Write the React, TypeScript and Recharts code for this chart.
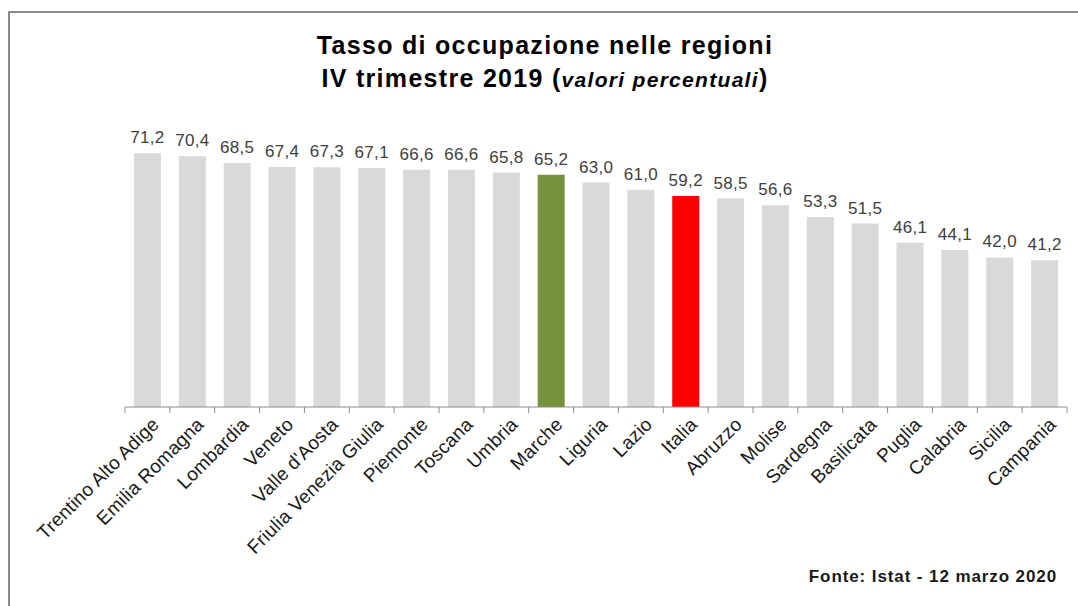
import { BarChart, Bar, XAxis, YAxis, Cell, LabelList } from "recharts";

const regioni = [
  "Trentino Alto Adige",
  "Emilia Romagna",
  "Lombardia",
  "Veneto",
  "Valle d'Aosta",
  "Friulia Venezia Giulia",
  "Piemonte",
  "Toscana",
  "Umbria",
  "Marche",
  "Liguria",
  "Lazio",
  "Italia",
  "Abruzzo",
  "Molise",
  "Sardegna",
  "Basilicata",
  "Puglia",
  "Calabria",
  "Sicilia",
  "Campania",
];

const tassi = [
  71.2, 70.4, 68.5, 67.4, 67.3, 67.1, 66.6, 66.6, 65.8, 65.2, 63.0, 61.0, 59.2,
  58.5, 56.6, 53.3, 51.5, 46.1, 44.1, 42.0, 41.2,
];

const coloriSpeciali: { [k: string]: string } = {
  Marche: "#76923c",
  Italia: "#ff0000",
};

const data = regioni.map((r, i) => ({ regione: r, valore: tassi[i] }));

const W = 1078;
const H = 606;
const MARGIN = { top: 122, right: 11, left: 125, bottom: 9 };
const HALF_BAND = (W - MARGIN.left - MARGIN.right) / regioni.length / 2;
const FONT = "'Liberation Sans', Arial, sans-serif";

const Tick = (props: any) => {
  const { x, y, payload, index } = props;
  const isLast = index === regioni.length - 1;
  const ax = x + 3;
  const ay = y + 1;
  return (
    <g>
      <line x1={x - HALF_BAND} x2={x - HALF_BAND} y1={y - 8} y2={y - 2} stroke="#8c8c8c" />
      {isLast && (
        <line x1={x + HALF_BAND} x2={x + HALF_BAND} y1={y - 8} y2={y - 2} stroke="#8c8c8c" />
      )}
      <text
        x={ax}
        y={ay}
        transform={`rotate(-45 ${ax} ${ay})`}
        textAnchor="end"
        dominantBaseline="hanging"
        fontSize={19}
        letterSpacing={0.2}
        fontFamily={FONT}
        fill="#1a1a1a"
      >
        {payload.value}
      </text>
    </g>
  );
};

export default function App() {
  return (
    <div
      style={{
        position: "absolute",
        left: 0,
        top: 0,
        width: W,
        height: H,
        background: "#fff",
        fontFamily: FONT,
      }}
    >
      <div
        style={{
          position: "absolute",
          left: 8,
          top: 11,
          right: 0,
          bottom: 0,
          borderTop: "2px solid #8a8a8a",
          borderLeft: "2px solid #8a8a8a",
        }}
      />
      <div
        style={{
          position: "absolute",
          top: 29,
          left: 6,
          width: W,
          textAlign: "center",
          fontWeight: "bold",
          fontSize: 25,
          letterSpacing: 1.3,
          lineHeight: "33px",
          color: "#000",
        }}
      >
        Tasso di occupazione nelle regioni
        <br />
        IV trimestre 2019 (<span style={{ fontStyle: "italic", fontSize: 21 }}>valori percentuali</span>)
      </div>
      <div style={{ position: "absolute", left: 0, top: 0 }}>
        <BarChart width={W} height={H} data={data} margin={MARGIN} barCategoryGap="20%">
          <XAxis
            dataKey="regione"
            interval={0}
            height={190}
            tickLine={false}
            axisLine={{ stroke: "#8c8c8c" }}
            tick={<Tick />}
          />
          <YAxis hide domain={[0, 80]} />
          <Bar dataKey="valore" isAnimationActive={false}>
            {data.map((d) => (
              <Cell key={d.regione} fill={coloriSpeciali[d.regione] ?? "#d9d9d9"} />
            ))}
            <LabelList
              dataKey="valore"
              position="top"
              offset={10}
              formatter={(v: any) => Number(v).toFixed(1).replace(".", ",")}
              style={{ fontSize: 17, fontFamily: FONT, fill: "#404040", letterSpacing: 0.3 }}
            />
          </Bar>
        </BarChart>
      </div>
      <div
        style={{
          position: "absolute",
          right: 21,
          top: 567,
          fontWeight: "bold",
          fontSize: 17,
          letterSpacing: 0.9,
          color: "#1a1a1a",
        }}
      >
        Fonte: Istat - 12 marzo 2020
      </div>
    </div>
  );
}
